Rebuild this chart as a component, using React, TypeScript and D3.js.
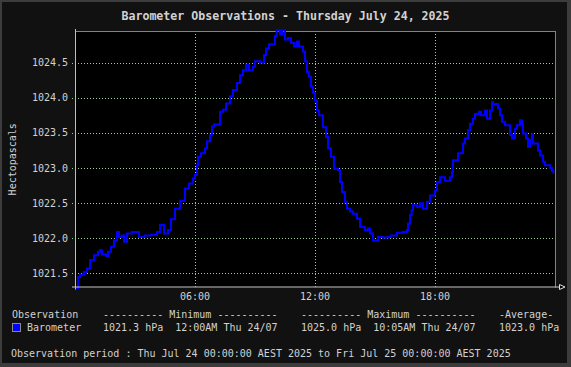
import React from "react";
import * as d3 from "d3";

// minutes after midnight
const minutes = [
  0, 6, 9, 15, 27, 36, 45, 57, 69, 75, 81, 93, 99, 108, 117, 126, 132, 141, 147, 156,
  171, 192, 210, 228, 246, 255, 267, 279, 288, 300, 315, 330, 342, 354, 360, 366, 369, 378, 390, 396,
  405, 411, 417, 435, 444, 453, 465, 474, 486, 495, 504, 513, 522, 534, 540, 555, 567, 573, 582, 600,
  605, 615, 621, 630, 639, 648, 657, 666, 672, 684, 690, 696, 702, 708, 714, 720, 726, 732, 744, 753,
  759, 768, 777, 789, 795, 801, 810, 816, 825, 834, 846, 855, 870, 879, 885, 894, 909, 924, 939, 948,
  966, 984, 996, 999, 1005, 1010, 1014, 1026, 1035, 1044, 1056, 1065, 1074, 1080, 1086, 1095, 1110, 1125, 1131, 1134,
  1149, 1164, 1170, 1179, 1185, 1194, 1200, 1212, 1218, 1230, 1236, 1245, 1251, 1254, 1269, 1275, 1281, 1290, 1305, 1311,
  1320, 1326, 1335, 1341, 1344, 1353, 1359, 1365, 1371, 1374, 1389, 1395, 1404, 1410, 1425, 1431, 1435,
];

// hPa
const pressure = [
  1021.29, 1021.29, 1021.45, 1021.48, 1021.52, 1021.57, 1021.69, 1021.76, 1021.81, 1021.83, 1021.77, 1021.75, 1021.81, 1021.88, 1021.97, 1022.09, 1022.02, 1022.04, 1021.95, 1022.07,
  1022.09, 1022.02, 1022.04, 1022.05, 1022.09, 1022.19, 1022.07, 1022.12, 1022.27, 1022.42, 1022.53, 1022.71, 1022.78, 1022.85, 1022.9, 1023.04, 1023.16, 1023.21, 1023.28, 1023.38,
  1023.47, 1023.59, 1023.62, 1023.8, 1023.83, 1023.92, 1024.02, 1024.11, 1024.21, 1024.32, 1024.39, 1024.47, 1024.39, 1024.44, 1024.52, 1024.5, 1024.61, 1024.7, 1024.76, 1024.88,
  1024.96, 1024.9, 1024.96, 1024.83, 1024.85, 1024.78, 1024.73, 1024.8, 1024.73, 1024.66, 1024.52, 1024.37, 1024.3, 1024.16, 1024.07, 1023.96, 1023.82, 1023.75, 1023.58, 1023.44,
  1023.28, 1023.16, 1022.99, 1022.97, 1022.8, 1022.66, 1022.52, 1022.42, 1022.38, 1022.35, 1022.28, 1022.16, 1022.12, 1022.14, 1022.07, 1021.97, 1022.02, 1022.01, 1022.02, 1022.04,
  1022.08, 1022.09, 1022.12, 1022.21, 1022.33, 1022.4, 1022.47, 1022.45, 1022.5, 1022.42, 1022.52, 1022.61, 1022.61, 1022.68, 1022.8, 1022.87, 1022.82, 1022.87, 1022.94, 1023.11,
  1023.21, 1023.35, 1023.42, 1023.54, 1023.63, 1023.7, 1023.77, 1023.8, 1023.75, 1023.82, 1023.7, 1023.82, 1023.94, 1023.91, 1023.85, 1023.75, 1023.66, 1023.61, 1023.47, 1023.42,
  1023.56, 1023.61, 1023.68, 1023.63, 1023.49, 1023.42, 1023.3, 1023.4, 1023.48, 1023.35, 1023.25, 1023.18, 1023.09, 1023.04, 1023.0, 1022.96, 1022.92,
];

const yTicks = [1021.5, 1022.0, 1022.5, 1023.0, 1023.5, 1024.0, 1024.5];
const xTicks = [360, 720, 1080];
const xTickLabels = ["06:00", "12:00", "18:00"];

const title = "Barometer Observations - Thursday July 24, 2025";
const yLabel = "Hectopascals";
const seriesName = "Barometer";
const headers = ["Observation", "---------- Minimum ----------", "---------- Maximum ----------", "-Average-"];
const stats = ["1021.3 hPa  12:00AM Thu 24/07", "1025.0 hPa  10:05AM Thu 24/07", "1023.0 hPa"];
const period = "Observation period : Thu Jul 24 00:00:00 AEST 2025 to Fri Jul 25 00:00:00 AEST 2025";

const W = 571;
const H = 367;
const plot = { left: 75, right: 555, top: 31, bottom: 287.5 };
const mono = "'DejaVu Sans Mono', 'Liberation Mono', monospace";
const textCol = "#d2d2d2";
const gridCol = "#98d098";

export default function App() {
  const x = d3.scaleLinear().domain([0, 1440]).range([plot.left, plot.right]);
  const y = d3.scaleLinear().domain([1021.3, 1024.95]).range([plot.bottom, plot.top]);

  const pts = minutes.map((m, i) => [m, pressure[i]] as [number, number]);
  const line = d3
    .line<[number, number]>()
    .x((d) => x(d[0]))
    .y((d) => y(d[1]))
    .curve(d3.curveStepAfter);

  const colX = [12, 103, 301, 499];

  return (
    <svg
      width={W}
      height={H}
      style={{ position: "absolute", left: 0, top: 0, display: "block" }}
      fontFamily={mono}
    >
      {/* frame */}
      <rect x={0} y={0} width={W} height={H} fill="#3c3c3c" />
      <rect x={2} y={2} width={W - 6} height={H - 6} fill="#111111" />

      <text x={W / 2} y={20} textAnchor="middle" fontSize={11.6} fontWeight="bold" fill={textCol}>
        {title}
      </text>

      {/* plot area */}
      <rect x={plot.left} y={plot.top} width={plot.right - plot.left} height={plot.bottom - plot.top} fill="#000" />

      {/* horizontal grid */}
      {yTicks.map((t) => (
        <g key={t}>
          <line
            x1={plot.left - 3}
            x2={plot.right + 3}
            y1={Math.round(y(t)) + 0.5}
            y2={Math.round(y(t)) + 0.5}
            stroke={gridCol}
            strokeDasharray="1,2"
          />
          <text x={68} y={y(t) + 3.5} textAnchor="end" fontSize={10} fill={textCol}>
            {t.toFixed(1)}
          </text>
        </g>
      ))}

      {/* vertical grid */}
      {xTicks.map((t, i) => (
        <g key={t}>
          <line
            x1={Math.round(x(t)) + 0.5}
            x2={Math.round(x(t)) + 0.5}
            y1={plot.top}
            y2={plot.bottom + 1.5}
            stroke={gridCol}
            strokeDasharray="1,2"
          />
          <text x={x(t)} y={299.5} textAnchor="middle" fontSize={10} fill={textCol}>
            {xTickLabels[i]}
          </text>
        </g>
      ))}

      {/* borders */}
      <line x1={plot.left} x2={plot.right + 0.5} y1={plot.top + 0.5} y2={plot.top + 0.5} stroke="#8a8a40" />
      <line x1={plot.right + 0.5} x2={plot.right + 0.5} y1={plot.top} y2={plot.bottom} stroke="#8a8a40" />

      {/* series */}
      <path d={line(pts) ?? ""} fill="none" stroke="#0000ff" strokeWidth={2} />

      {/* axes */}
      <line x1={plot.left + 0.5} x2={plot.left + 0.5} y1={plot.top - 2} y2={plot.bottom + 2} stroke="#a8d090" />
      <line x1={plot.left - 3} x2={559} y1={287} y2={287} stroke="#c8c8c8" />
      <path d="M559.5,284.5 L565,287 L559.5,289.5 Z" fill="#000" stroke="#e0e0e0" />

      <text
        transform={`translate(16,${(plot.top + plot.bottom) / 2}) rotate(-90)`}
        textAnchor="middle"
        fontSize={10}
        fill={textCol}
      >
        {yLabel}
      </text>

      {/* legend */}
      {headers.map((h, i) => (
        <text key={h} x={colX[i]} y={317.5} fontSize={10} fill={textCol} style={{ whiteSpace: "pre" }}>
          {h}
        </text>
      ))}
      <rect x={12.5} y={323.5} width={8} height={8} fill="#0000ff" stroke="#8a8a8a" />
      <text x={27} y={330.5} fontSize={10} fill={textCol}>
        {seriesName}
      </text>
      {stats.map((s, i) => (
        <text key={s} x={colX[i + 1]} y={330.5} fontSize={10} fill={textCol} style={{ whiteSpace: "pre" }}>
          {s}
        </text>
      ))}
      <text x={11} y={357} fontSize={10} fill={textCol}>
        {period}
      </text>
    </svg>
  );
}
